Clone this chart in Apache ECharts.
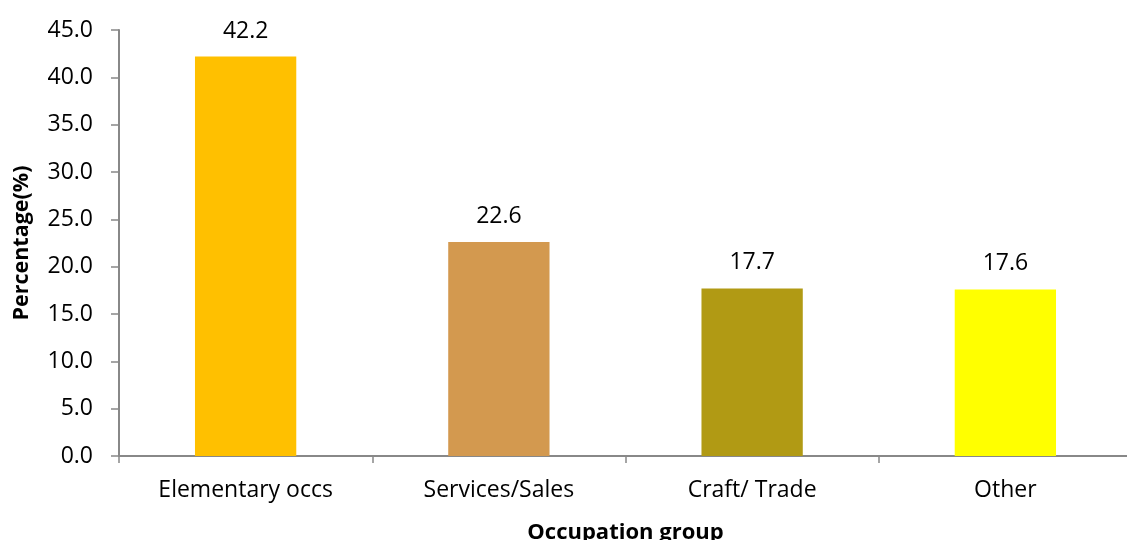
<!DOCTYPE html>
<html>
<head>
<meta charset="utf-8">
<style>
  html, body { margin: 0; padding: 0; background: #fff; overflow: hidden; }
  #chart { width: 1132px; height: 540px; }
</style>
<script src="https://cdn.jsdelivr.net/npm/echarts@6/dist/echarts.min.js"></script>
</head>
<body>
<div id="chart"></div>
<script>
// Share of workers by occupation group
const categories = ['Elementary occs', 'Services/Sales', 'Craft/ Trade', 'Other'];
const percentages = [42.2, 22.6, 17.7, 17.6];
const barColors = ['#FFC000', '#D3994F', '#B19A14', '#FFFF00'];

const FONT = '"Open Sans", "Liberation Sans", sans-serif';
const AXIS_GREY = '#888888';

const chart = echarts.init(document.getElementById('chart'), null, { renderer: 'canvas' });

chart.setOption({
  animation: false,
  backgroundColor: '#ffffff',
  grid: { left: 119, right: 0, top: 30, bottom: 84, outerBoundsMode: 'none', containLabel: false },
  xAxis: {
    type: 'category',
    data: categories,
    name: 'Occupation group',
    nameLocation: 'middle',
    nameGap: 66,
    nameTextStyle: { fontFamily: FONT, fontSize: 22, fontWeight: 'bold', color: '#000' },
    axisLine: { lineStyle: { color: AXIS_GREY, width: 2 } },
    axisTick: { show: true, length: 7, lineStyle: { color: AXIS_GREY, width: 1.5 } },
    axisLabel: { fontFamily: FONT, fontSize: 23, color: '#000', margin: 23 }
  },
  yAxis: {
    type: 'value',
    min: 0,
    max: 45,
    interval: 5,
    name: 'Percentage(%)',
    nameLocation: 'middle',
    nameGap: 86,
    nameTextStyle: { fontFamily: FONT, fontSize: 21.5, fontWeight: 'bold', color: '#000' },
    axisLine: { show: true, lineStyle: { color: AXIS_GREY, width: 2 } },
    axisTick: { show: true, length: 8, lineStyle: { color: AXIS_GREY, width: 1.5 } },
    splitLine: { show: false },
    axisLabel: {
      fontFamily: FONT, fontSize: 23, color: '#000', margin: 26,
      formatter: v => v.toFixed(1)
    }
  },
  series: [{
    type: 'bar',
    barWidth: '40%',
    data: percentages.map((v, i) => ({ value: v, itemStyle: { color: barColors[i] } })),
    label: {
      show: true,
      position: 'top',
      distance: 14,
      fontFamily: FONT,
      fontSize: 23,
      color: '#000',
      formatter: p => p.value.toFixed(1)
    }
  }]
});
</script>
</body>
</html>
